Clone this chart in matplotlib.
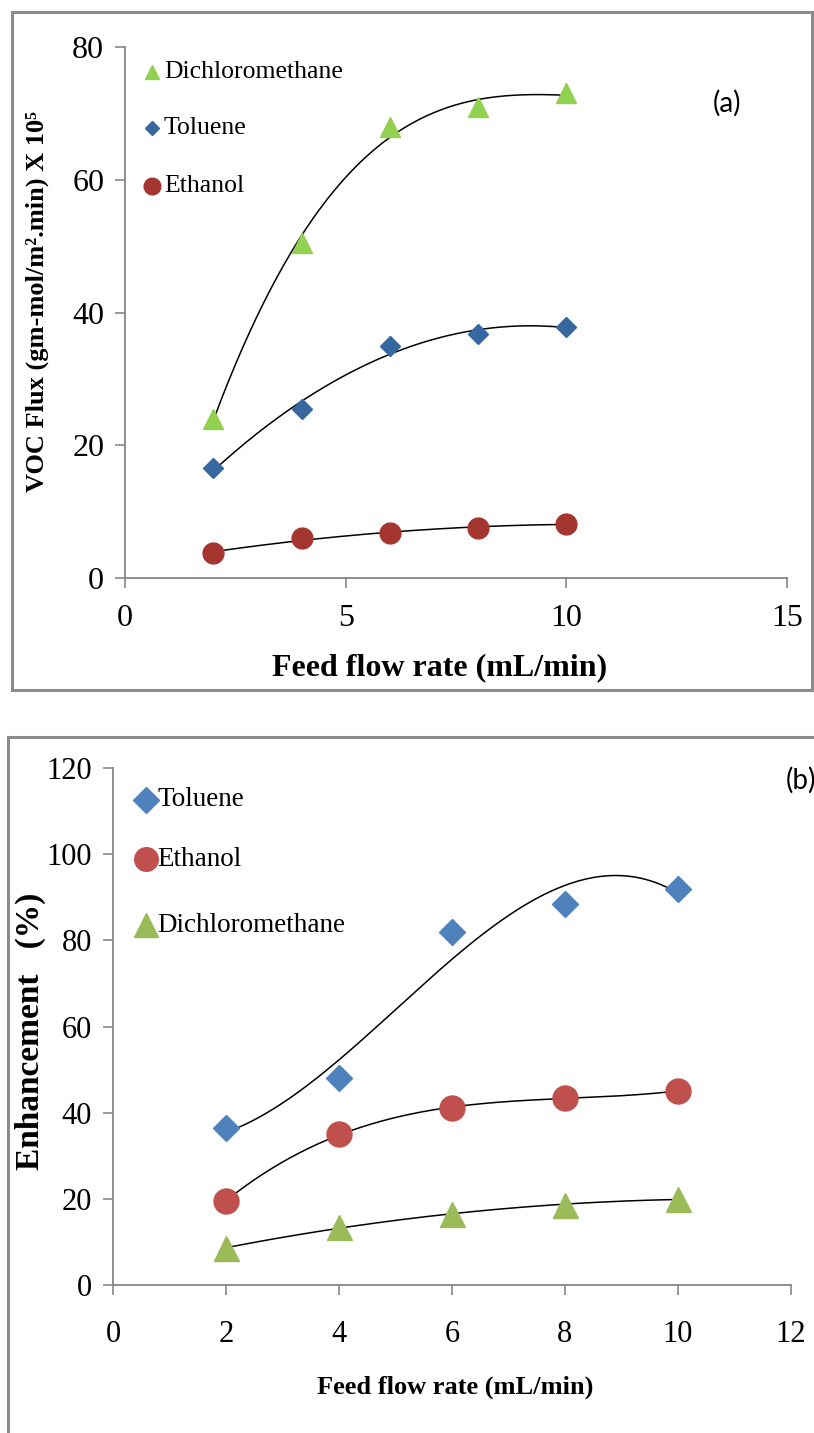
import numpy as np
import matplotlib.pyplot as plt
from matplotlib.patches import Rectangle

# panel (a): VOC flux vs feed flow rate
flow = [2, 4, 6, 8, 10]
flux_dcm = [24.0, 50.5, 68.0, 71.0, 73.0]
flux_tol = [16.5, 25.5, 35.0, 36.8, 37.8]
flux_eth = [3.8, 6.0, 6.8, 7.5, 8.2]

# panel (b): enhancement vs feed flow rate
enh_tol = [36.5, 48.0, 82.0, 88.5, 92.0]
enh_eth = [19.5, 35.0, 41.0, 43.5, 45.0]
enh_dcm = [8.5, 13.5, 16.5, 18.5, 20.0]

serif = ['Liberation Serif', 'DejaVu Serif']
plt.rcParams['font.family'] = serif

W, H = 814, 1433
fig = plt.figure(figsize=(W / 100, H / 100), dpi=100)


def box(l, t, r, b):
    return [l / W, 1 - b / H, (r - l) / W, (b - t) / H]


def trend(ax, x, y, order):
    p = np.polyfit(x, y, order)
    xs = np.linspace(min(x), max(x), 200)
    ax.plot(xs, np.polyval(p, xs), color='black', lw=1.1, zorder=2)


def style(ax, size, xpad):
    for s in ['top', 'right']:
        ax.spines[s].set_visible(False)
    for s in ['left', 'bottom']:
        ax.spines[s].set_color('#868686')
        ax.spines[s].set_linewidth(1.3)
    ax.tick_params(direction='out', length=7, width=1.2, color='#868686',
                   labelsize=size, pad=8)
    ax.tick_params(axis='x', pad=xpad)


# frames round each panel
fig.add_artist(Rectangle((12 / W, 1 - 690 / H), 800 / W, 678 / H,
                         transform=fig.transFigure, fill=False,
                         ec='#8c8c8c', lw=2.2))
fig.add_artist(Rectangle((8 / W, 1 - 1440 / H), 820 / W, 703 / H,
                         transform=fig.transFigure, fill=False,
                         ec='#8c8c8c', lw=2.2))

# ---- (a)
ax1 = fig.add_axes(box(125, 47, 787, 578))
trend(ax1, flow, flux_dcm, 3)
trend(ax1, flow, flux_tol, 2)
trend(ax1, flow, flux_eth, 2)
ax1.plot(flow, flux_dcm, '^', color='#92d050', ms=14, mec='#92d050', ls='none', zorder=3)
ax1.plot(flow, flux_tol, 'D', color='#36679f', ms=10, ls='none', zorder=3)
ax1.plot(flow, flux_eth, 'o', color='#a5352f', ms=15, ls='none', zorder=3)
ax1.set_xlim(0, 15)
ax1.set_ylim(0, 80)
ax1.set_xticks([0, 5, 10, 15])
ax1.set_yticks([0, 20, 40, 60, 80])
style(ax1, 23, 12)
fig.text(440 / W, 1 - 668 / H, 'Feed flow rate (mL/min)', ha='center', va='center',
         fontsize=23, fontweight='bold')
fig.text(37 / W, 1 - 302 / H, 'VOC Flux (gm-mol/m\u00b2.min) X 10\u2075', ha='center',
         va='center', rotation=90, fontsize=19, fontweight='bold')
fig.text(727 / W, 1 - 103 / H, '(a)', ha='center', va='center', fontsize=20,
         family=['Lato', 'DejaVu Sans'])

leg_a = [('^', '#92d050', 10, 'Dichloromethane', 72),
         ('D', '#36679f', 7, 'Toluene', 128),
         ('o', '#a5352f', 12, 'Ethanol', 186)]
for m, c, s, lab, yy in leg_a:
    fig.add_artist(plt.Line2D([152 / W], [1 - yy / H], marker=m, color=c, ms=s,
                              ls='none', transform=fig.transFigure))
    fig.text(164 / W, 1 - yy / H, lab, ha='left', va='center', fontsize=18.5)

# ---- (b)
ax2 = fig.add_axes(box(113, 768, 791, 1285))
trend(ax2, flow, enh_tol, 3)
trend(ax2, flow, enh_eth, 3)
trend(ax2, flow, enh_dcm, 2)
ax2.plot(flow, enh_tol, 'D', color='#4f81bd', ms=13, ls='none', zorder=3)
ax2.plot(flow, enh_eth, 'o', color='#c0504d', ms=18, ls='none', zorder=3)
ax2.plot(flow, enh_dcm, '^', color='#9bbb59', ms=18, ls='none', zorder=3)
ax2.set_xlim(0, 12)
ax2.set_ylim(0, 120)
ax2.set_xticks(range(0, 13, 2))
ax2.set_yticks(range(0, 121, 20))
style(ax2, 22, 18)
fig.text(455 / W, 1 - 1387 / H, 'Feed flow rate (mL/min)', ha='center', va='center',
         fontsize=19, fontweight='bold')
fig.text(30 / W, 1 - 1031 / H, 'Enhancement   (%)', ha='center', va='center',
         rotation=90, fontsize=24, fontweight='bold')
fig.text(786 / W, 1 - 780 / H, '(b)', ha='left', va='center', fontsize=20,
         family=['Lato', 'DejaVu Sans'])

leg_b = [('D', '#4f81bd', 13, 'Toluene', 800),
         ('o', '#c0504d', 17, 'Ethanol', 859),
         ('^', '#9bbb59', 17, 'Dichloromethane', 925)]
for m, c, s, lab, yy in leg_b:
    fig.add_artist(plt.Line2D([146 / W], [1 - yy / H], marker=m, color=c, ms=s,
                              ls='none', transform=fig.transFigure))
    fig.text(157 / W, 1 - yy / H, lab, ha='left', va='center', fontsize=19.5)

fig.savefig('out.png', dpi=100)
